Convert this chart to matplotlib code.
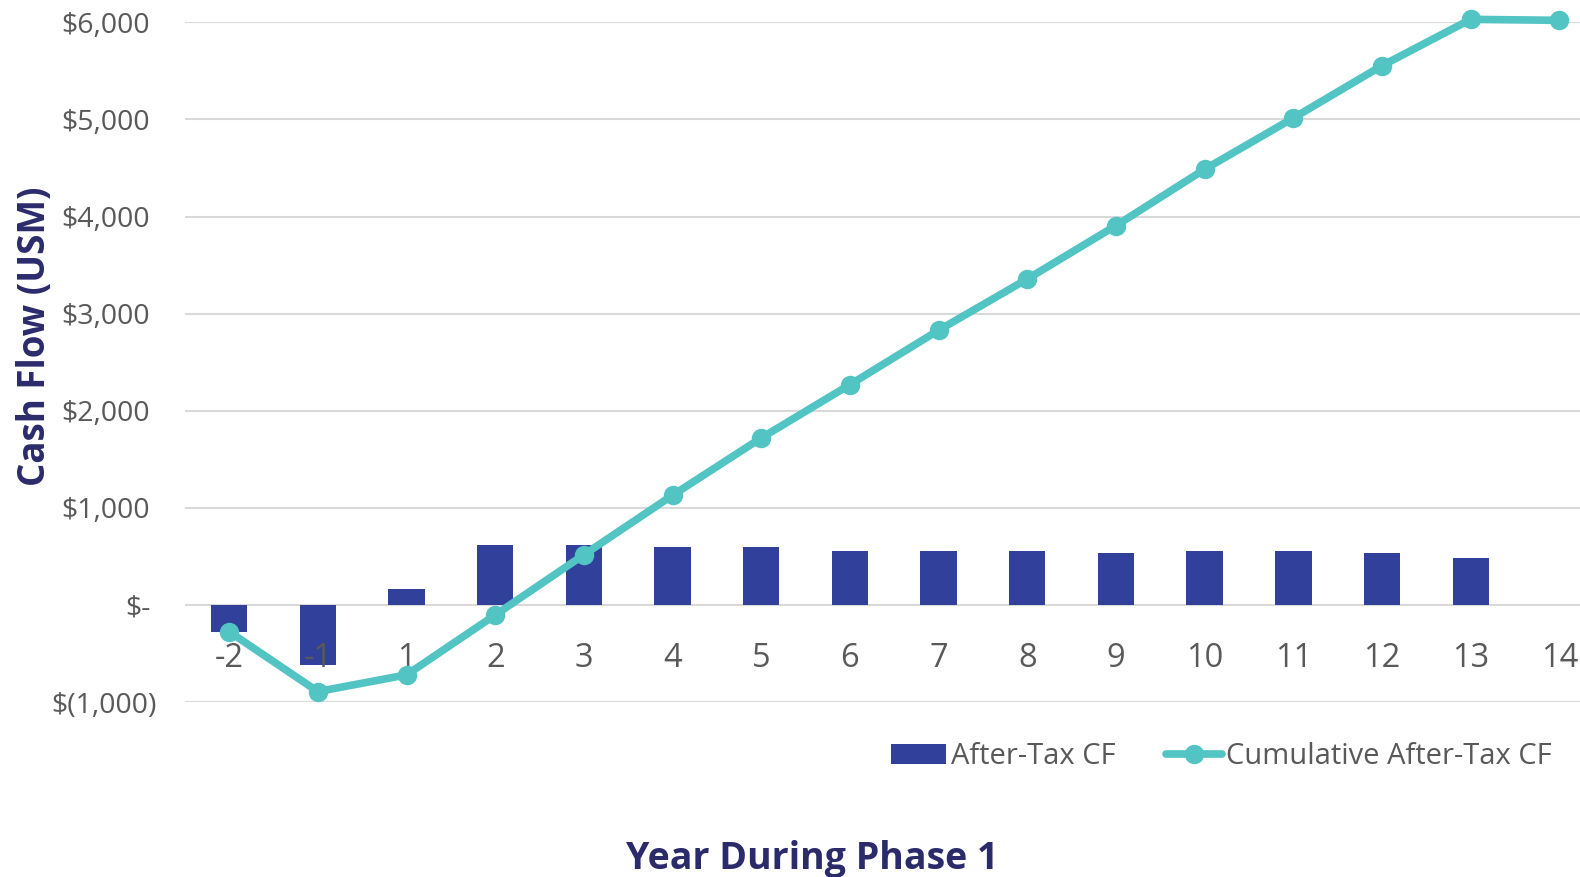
import matplotlib.pyplot as plt
from matplotlib.ticker import FixedLocator, FuncFormatter
import matplotlib.transforms as mtransforms

years = ["-2", "-1", "1", "2", "3", "4", "5", "6", "7", "8", "9", "10", "11", "12", "13", "14"]
after_tax_cf = [-275, -615, 165, 620, 620, 600, 600, 558, 558, 558, 538, 558, 558, 538, 486, -5]
cumulative_cf = [-276, -892, -720, -103, 517, 1130, 1720, 2269, 2829, 3357, 3907, 4487, 5015, 5554, 6031, 6021]

BAR_COLOR = "#31409a"
LINE_COLOR = "#52c4c4"
NAVY = "#2b2a6b"
GRAY = "#595959"

plt.rcParams["font.family"] = ["Open Sans", "DejaVu Sans"]


def money(v, _pos=None):
    if v == 0:
        return "$-"
    if v < 0:
        return f"$({abs(v):,.0f})"
    return f"${v:,.0f}"


fig = plt.figure(figsize=(15.8, 8.77), dpi=100)
ax = fig.add_axes([0.117, 0.1995, 0.898, 0.775])

x = range(len(years))
bars = ax.bar(x, after_tax_cf, width=0.41, color=BAR_COLOR, label="After-Tax CF", zorder=2)
line, = ax.plot(x, cumulative_cf, color=LINE_COLOR, lw=5.5, marker="o", ms=13,
                solid_capstyle="round", label="Cumulative After-Tax CF", zorder=3, clip_on=False)

ax.set_xlim(-0.5, len(years) - 0.5)
ax.set_ylim(-1000, 6000)
ax.yaxis.set_major_locator(FixedLocator(range(-1000, 6001, 1000)))
ax.yaxis.set_major_formatter(FuncFormatter(money))
ax.set_xticks(list(x))
ax.set_xticklabels(years)

ax.grid(axis="y", color="#d9d9d9", lw=1.5)
ax.set_axisbelow(True)
for side in ["left", "right", "top"]:
    ax.spines[side].set_visible(False)
# year labels sit just under the zero line, drawn over the bars
ax.spines["bottom"].set_position(("data", 0))
ax.spines["bottom"].set_visible(False)
ax.xaxis.set_zorder(2.5)

ax.tick_params(axis="x", length=0, pad=27, labelsize=23.5, labelcolor=GRAY)
ax.tick_params(axis="y", length=0, pad=25, labelsize=20.5, labelcolor=GRAY)
for lab in ax.get_yticklabels():
    if "(" in lab.get_text():
        lab.set_transform(lab.get_transform() + mtransforms.ScaledTranslation(6 / 100, 0, fig.dpi_scale_trans))

fig.text(0.022, 0.617, "Cash Flow (USM)", rotation=90, ha="center", va="center",
         fontsize=26.5, fontweight="bold", color=NAVY)
fig.text(0.514, 0.021, "Year During Phase 1", ha="center", va="center",
         fontsize=27, fontweight="bold", color=NAVY)

ax.legend([bars, line], ["After-Tax CF", "Cumulative After-Tax CF"],
          loc="center", bbox_to_anchor=(0.773, 0.137), bbox_transform=fig.transFigure,
          ncol=2, frameon=False, fontsize=21, labelcolor=GRAY,
          handlelength=1.9, handleheight=0.65, handletextpad=0.15, columnspacing=1.75)

fig.savefig("out.png", dpi=100)
